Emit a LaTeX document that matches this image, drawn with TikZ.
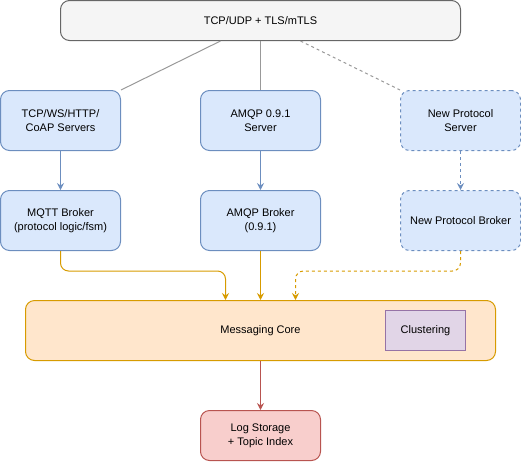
\documentclass[tikz,border=0pt]{standalone}
\usepackage{fontspec}
\setmainfont{Liberation Sans}
\usetikzlibrary{arrows.meta}
\definecolor{grayfill}{HTML}{F5F5F5}
\definecolor{graystroke}{HTML}{666666}
\definecolor{bluefill}{HTML}{DAE8FC}
\definecolor{bluestroke}{HTML}{6C8EBF}
\definecolor{orfill}{HTML}{FFE6CC}
\definecolor{orstroke}{HTML}{D79B00}
\definecolor{purfill}{HTML}{E1D5E7}
\definecolor{purstroke}{HTML}{9673A6}
\definecolor{redfill}{HTML}{F8CECC}
\definecolor{redstroke}{HTML}{B85450}
\definecolor{linegray}{HTML}{999999}
\tikzset{
  x=1pt,y=-1pt,
  every node/.style={font=\fontsize{11}{14}\selectfont, align=center, inner sep=0pt},
  box/.style={draw, rounded corners=9pt, line width=1pt, minimum width=120pt, minimum height=60pt},
  bluebox/.style={box, fill=bluefill, draw=bluestroke},
  arr/.style={line width=1pt, -{Stealth[length=7pt,width=7pt,inset=2.5pt]}},
  dashline/.style={dash pattern=on 3pt off 3pt},
}
\begin{document}
\begin{tikzpicture}
\useasboundingbox (0,0) rectangle (521,461);
\node[box, fill=grayfill, draw=graystroke, minimum width=400pt, minimum height=40pt] (top) at (260.5,20.5) {TCP/UDP + TLS/mTLS};
\node[bluebox] (s1) at (60.5,120.5) {TCP/WS/HTTP/\\CoAP Servers};
\node[bluebox] (s2) at (260.5,120.5) {AMQP 0.9.1\\Server};
\node[bluebox, dashline] (s3) at (460.5,120.5) {New Protocol\\Server};
\node[bluebox] (b1) at (60.5,220.5) {MQTT Broker\\(protocol logic/fsm)};
\node[bluebox] (b2) at (260.5,220.5) {AMQP Broker\\(0.9.1)};
\node[bluebox, dashline] (b3) at (460.5,220.5) {New Protocol Broker};
\node[box, fill=orfill, draw=orstroke, minimum width=470pt, minimum height=60pt] (core) at (260.5,330.5) {};
\node (coretext) at (260.5,330.5) {Messaging Core};
\node[draw=purstroke, fill=purfill, line width=1pt, minimum width=80pt, minimum height=40pt] (clu) at (425.5,330.5) {Clustering};
\node[box, fill=redfill, draw=redstroke, minimum height=50pt] (log) at (260.5,435.5) {Log Storage\\+ Topic Index};

\draw[linegray, line width=1pt] ([xshift=-40pt]top.south) -- (s1.north east);
\draw[linegray, line width=1pt] (top.south) -- (s2.north);
\draw[linegray, line width=1pt, dashline] ([xshift=40pt]top.south) -- (s3.north west);

\draw[arr, bluestroke] (s1) -- (b1);
\draw[arr, bluestroke] (s2) -- (b2);
\draw[arr, bluestroke, dashline] (s3) -- (b3);

\draw[arr, orstroke, rounded corners=8pt] (b1.south) -- ++(0,20) -| ([xshift=-35pt]core.north);
\draw[arr, orstroke] (b2.south) -- (core.north);
\draw[arr, orstroke, dashline, rounded corners=8pt] (b3.south) -- ++(0,20) -| ([xshift=35pt]core.north);

\draw[arr, redstroke] (core.south) -- (log.north);
\end{tikzpicture}
\end{document}
